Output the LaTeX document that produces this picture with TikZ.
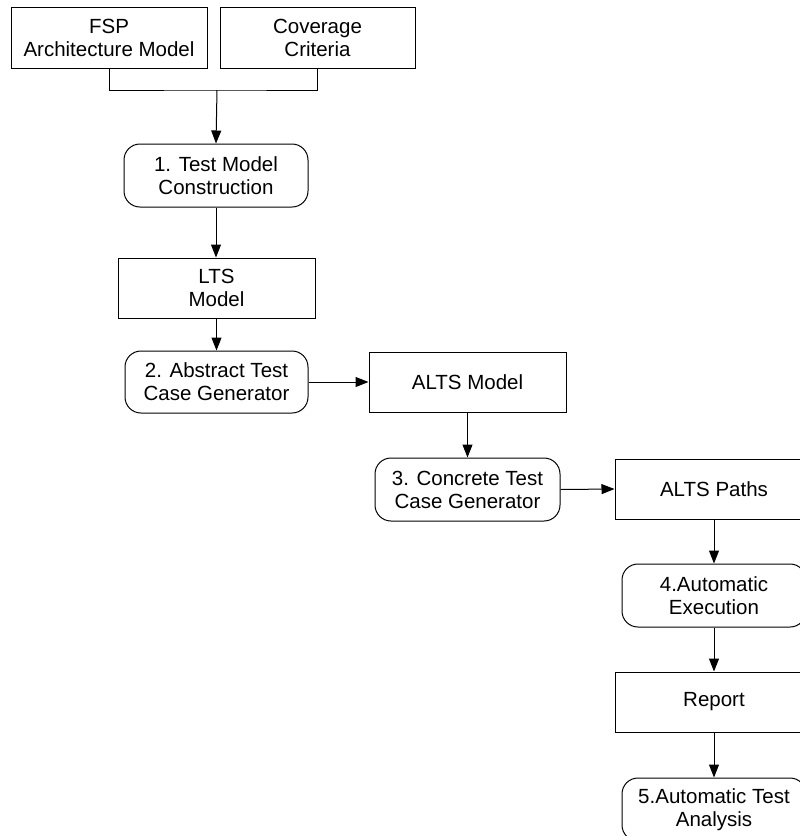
\documentclass[tikz,border=0pt]{standalone}
\usepackage{fontspec}
\setmainfont{Liberation Sans}
\usetikzlibrary{arrows.meta}
\begin{document}
\begin{tikzpicture}[x=1pt,y=-1pt,
  every node/.style={font=\fontsize{20.5}{23}\selectfont, align=center, inner sep=0pt},
  databox/.style={draw, line width=1pt, rectangle, minimum width=#1, minimum height=60},
  databox/.default=197,
  stepbox/.style={draw, line width=1pt, rectangle, rounded corners=16, minimum width=184, minimum height=63},
  link/.style={line width=1pt},
  arr/.style={link, -{Triangle[length=13,width=10]}}]
  \clip (0,0) rectangle (800,836);
  \useasboundingbox (0,0) rectangle (800,836);

  % inputs
  \node[databox=196, minimum height=61] (fsp) at (109,37.5) {FSP\\Architecture Model};
  \node[databox=195, minimum height=61] (cov) at (317.5,37.5) {Coverage\\Criteria};
  \coordinate (bar) at (217,90);

  % process chain
  \node[stepbox] (s1) at (216,175.5) {1. Test Model\\Construction};
  \node[databox] (lts) at (216.5,288) {LTS\\Model};
  \node[stepbox, minimum width=183, minimum height=62] (s2) at (216.5,382) {2. Abstract Test\\Case Generator};
  \node[databox] (altsm) at (467.5,382) {ALTS Model};
  \node[stepbox, minimum width=185] (s3) at (467.5,489.5) {3. Concrete Test\\Case Generator};
  \node[databox=198] (paths) at (714,489) {ALTS Paths};
  \node[stepbox] (s4) at (714,595.5) {4.Automatic\\Execution};
  \node[databox=198] (report) at (714,702) {Report};
  \node[stepbox] (s5) at (714,809.5) {5.Automatic Test\\Analysis};

  % connectors
  \draw[link] (fsp.south) |- (bar) -| (cov.south);
  \draw[arr] (bar) -- (s1.north);
  \draw[arr] (s1.south) -- (lts.north -| s1.south);
  \draw[arr] (lts.south) -- (s2.north);
  \draw[arr] (s2.east) -- (altsm.west);
  \draw[arr] (altsm.south) -- (s3.north);
  \draw[arr] (s3.east) -- (paths.west);
  \draw[arr] (paths.south) -- (s4.north);
  \draw[arr] (s4.south) -- (report.north);
  \draw[arr] (report.south) -- (s5.north);
\end{tikzpicture}
\end{document}
